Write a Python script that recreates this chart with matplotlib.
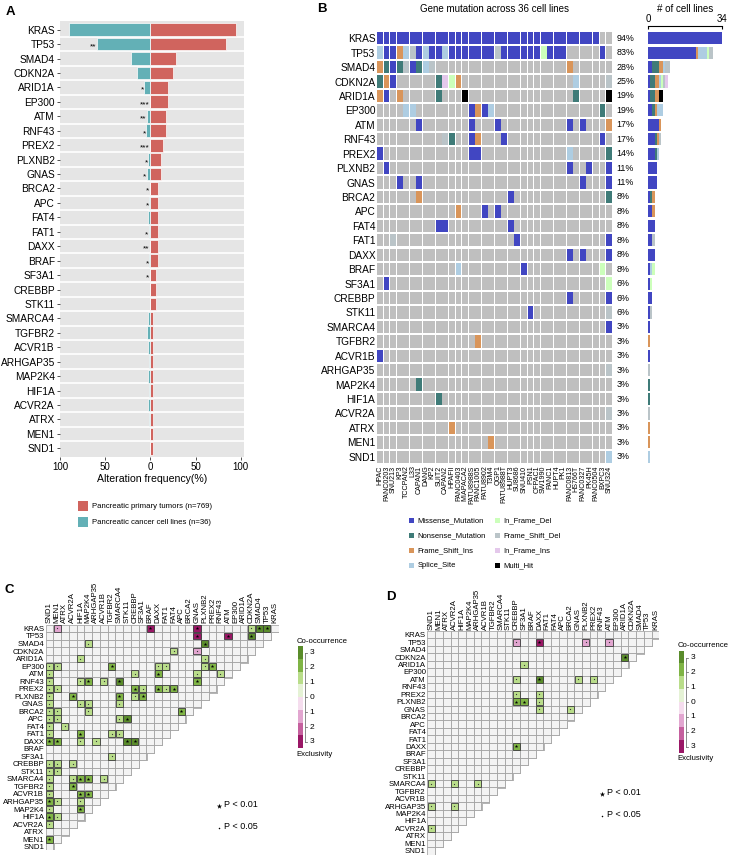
import matplotlib
matplotlib.use("Agg")
import matplotlib.pyplot as plt
from matplotlib.patches import Rectangle

plt.rcParams['font.family'] = ['Liberation Sans', 'DejaVu Sans']

genes = ["KRAS", "TP53", "SMAD4", "CDKN2A", "ARID1A", "EP300", "ATM", "RNF43",
         "PREX2", "PLXNB2", "GNAS", "BRCA2", "APC", "FAT4", "FAT1", "DAXX", "BRAF",
         "SF3A1", "CREBBP", "STK11", "SMARCA4", "TGFBR2", "ACVR1B", "ARHGAP35",
         "MAP2K4", "HIF1A", "ACVR2A", "ATRX", "MEN1", "SND1"]

# panel A: alteration frequency (%)
tumor_freq = [95, 84, 28, 25.5, 19, 19, 17, 17, 14, 11.5, 11.5, 8, 8, 8, 8, 8, 8,
              6, 6, 6, 3, 3, 3, 3, 3, 3, 3, 3, 3, 3]
cellline_freq = [90, 59, 21, 15, 7, 0.8, 4, 5, 0.8, 2.2, 4, 0.8, 1.5, 3, 1.9, 0.8,
                 1.1, 0.8, 0.8, 0.8, 2.2, 4, 2.2, 1.1, 2.2, 1.1, 2.2, 1.1, 0.5, 0.5]
signif = ["", "**", "", "", "*", "***", "**", "*", "***", "*", "*", "*", "*", "",
          "*", "**", "*", "*", "", "", "", "", "", "", "", "", "", "", "", ""]

# panel B: oncoprint
cell_lines = ["HPAC", "PANC0203", "SNU213", "KP3", "TCCPAN2", "L33", "CAPAN1", "DANG",
              "KP2", "SUIT2", "CAPAN2", "HPAFII", "PANC0403", "MIAPACA2", "PATU8988S",
              "PANC1005", "PATU8902", "T3M4", "QGP1", "PATU8988T", "HUPT3", "SU8686",
              "SNU410", "PSN1", "CFPAC1", "SW1990", "PANC1", "HUPT4", "PK1", "PANC0813",
              "HS766T", "PANC0327", "PK45H", "PANC0504", "BXPC3", "SNU324"]

mut_types = ["Missense_Mutation", "Nonsense_Mutation", "Frame_Shift_Ins", "Splice_Site",
             "In_Frame_Del", "Frame_Shift_Del", "In_Frame_Ins", "Multi_Hit"]
mut_codes = ["M", "N", "I", "S", "d", "D", "i", "H"]
mut_colors = ["#4146C2", "#3F7B78", "#D9955A", "#AECDE2", "#CCFFBB", "#BAC4C8",
              "#E4C8EB", "#000000"]

# one string per gene, one character per cell line ("." = no mutation)
mut_rows = [
    "MMMMMM" "MMMMMM" "MMMMMM" "MMMMMM" "MMMMMM" "MMMM..",  # KRAS
    "SMMISD" "MSMMSM" "MMMMMM" "DMMMMM" "MdMMM." "....M.",  # TP53
    "INMNDM" "NSD..." "......" "......" ".....I" "......",  # SMAD4
    "NIM..." "...Nid" "I....." "......" "......" "S....D",  # CDKN2A
    "IM.I.." "...N.." ".H...." "......" "......" "N....H",  # ARID1A
    "....SS" "......" "..MIMS" "......" "......" "....N.",  # EP300
    "......" "M....." "..M..." "M....." ".....M" ".M...I",  # ATM
    "......" "....DN" "..MI.." ".M...." "......" "....M.",  # RNF43
    "M....." "......" "..MM.." "......" ".....S" ".....N",  # PREX2
    ".M...." "......" "......" "......" ".....M" "..M..M",  # PLXNB2
    "...M.." "M....." "......" "......" "......" ".M...M",  # GNAS
    "......" "I....." "......" "..M..." "......" ".....N",  # BRCA2
    "......" "......" "I...M." "M....." "......" "......",  # APC
    "......" "...MM." "......" "..M..." "......" "......",  # FAT4
    "..D..." "......" "......" "...M.." "......" ".....M",  # FAT1
    "......" "......" "......" "......" ".....M" ".M...M",  # DAXX
    "......" "......" "S....." "....M." "......" "....d.",  # BRAF
    ".M...." "......" "......" "......" "......" ".....d",  # SF3A1
    "......" "......" "......" "......" ".....M" ".....M",  # CREBBP
    "......" "......" "......" ".....M" "......" ".....D",  # STK11
    "......" "......" "......" "......" "......" ".....M",  # SMARCA4
    "......" "......" "...I.." "......" "......" "......",  # TGFBR2
    "M....." "......" "......" "......" "......" "......",  # ACVR1B
    "......" "......" "......" "......" "......" ".....D",  # ARHGAP35
    "......" "N....." "......" "......" "......" "......",  # MAP2K4
    "......" "...N.." "......" "......" "......" "......",  # HIF1A
    "......" "......" "......" "......" "......" ".....D",  # ACVR2A
    "......" ".....I" "......" "......" "......" "......",  # ATRX
    "......" "......" ".....I" "......" "......" "......",  # MEN1
    "......" "......" "......" "......" "......" ".....S",  # SND1
]

# panels C and D: (row gene, column gene, level, significance)
# level > 0 co-occurrence, level < 0 exclusivity
c_pairs = [
    ("KRAS", "MEN1", -1, "."), ("KRAS", "BRAF", -3, "*"), ("KRAS", "GNAS", -3, "*"),
    ("KRAS", "CDKN2A", 1, "."), ("KRAS", "SMAD4", 3, "*"), ("KRAS", "TP53", 3, "*"),
    ("TP53", "GNAS", -3, "*"), ("TP53", "ATM", -3, "*"), ("TP53", "CDKN2A", 3, "*"),
    ("SMAD4", "MAP2K4", 1, "."), ("SMAD4", "PLXNB2", 3, "*"),
    ("CDKN2A", "FAT4", 1, "."), ("CDKN2A", "GNAS", -1, "."),
    ("ARID1A", "HIF1A", 1, "."), ("ARID1A", "PLXNB2", 1, "."),
    ("EP300", "SND1", 1, "."), ("EP300", "MEN1", 1, "."), ("EP300", "TGFBR2", 2, "*"),
    ("EP300", "DAXX", 1, "."), ("EP300", "FAT1", 1, "."), ("EP300", "PLXNB2", 1, "."),
    ("EP300", "PREX2", 2, "*"),
    ("ATM", "SND1", 1, "."), ("ATM", "CREBBP", 1, "."), ("ATM", "DAXX", 2, "*"),
    ("ATM", "GNAS", 1, "."), ("ATM", "RNF43", 1, "."),
    ("RNF43", "SND1", 1, "."), ("RNF43", "HIF1A", 1, "."), ("RNF43", "MAP2K4", 2, "*"),
    ("RNF43", "ACVR1B", 1, "."), ("RNF43", "SMARCA4", 3, "*"), ("RNF43", "GNAS", 2, "*"),
    ("PREX2", "SND1", 1, "."), ("PREX2", "MEN1", 1, "."), ("PREX2", "CREBBP", 2, "*"),
    ("PREX2", "SF3A1", 1, "."), ("PREX2", "DAXX", 2, "*"), ("PREX2", "FAT1", 1, "."),
    ("PREX2", "FAT4", 2, "*"),
    ("PLXNB2", "SND1", 1, "."), ("PLXNB2", "ACVR2A", 2, "*"), ("PLXNB2", "SMARCA4", 2, "*"),
    ("PLXNB2", "CREBBP", 1, "."), ("PLXNB2", "SF3A1", 2, "*"),
    ("GNAS", "SND1", 1, "."), ("GNAS", "HIF1A", 1, "."), ("GNAS", "MAP2K4", 1, "."),
    ("GNAS", "SMARCA4", 1, "."),
    ("BRCA2", "SND1", 1, "."), ("BRCA2", "MEN1", 1, "."), ("BRCA2", "MAP2K4", 1, "."),
    ("BRCA2", "APC", 2, "*"),
    ("APC", "SND1", 1, "."), ("APC", "MEN1", 1, "."), ("APC", "SMARCA4", 1, "."),
    ("APC", "STK11", 3, "*"),
    ("FAT4", "SND1", 1, "."), ("FAT4", "ATRX", 1, "."),
    ("FAT1", "SND1", 1, "."), ("FAT1", "HIF1A", 2, "*"), ("FAT1", "TGFBR2", 1, "."),
    ("FAT1", "SMARCA4", 1, "."),
    ("DAXX", "SND1", 2, "*"), ("DAXX", "MEN1", 2, "*"), ("DAXX", "HIF1A", 1, "."),
    ("DAXX", "ARHGAP35", 1, "."), ("DAXX", "STK11", 3, "*"), ("DAXX", "CREBBP", 3, "*"),
    ("SF3A1", "TGFBR2", 1, "."),
    ("CREBBP", "SND1", 1, "."), ("CREBBP", "MEN1", 1, "."), ("CREBBP", "ACVR2A", 1, "."),
    ("STK11", "SND1", 1, "."), ("STK11", "MEN1", 1, "."),
    ("SMARCA4", "SND1", 1, "."), ("SMARCA4", "ACVR2A", 1, "."), ("SMARCA4", "HIF1A", 2, "*"),
    ("SMARCA4", "MAP2K4", 2, "*"), ("SMARCA4", "ACVR1B", 1, "."),
    ("TGFBR2", "SND1", 1, "."), ("TGFBR2", "ACVR2A", 2, "*"),
    ("ACVR1B", "SND1", 1, "."), ("ACVR1B", "HIF1A", 2, "*"), ("ACVR1B", "MAP2K4", 2, "*"),
    ("ARHGAP35", "SND1", 2, "*"), ("ARHGAP35", "MEN1", 1, "."), ("ARHGAP35", "HIF1A", 1, "."),
    ("MAP2K4", "SND1", 1, "."), ("MAP2K4", "HIF1A", 2, "*"),
    ("HIF1A", "SND1", 2, "*"), ("HIF1A", "MEN1", 1, "."),
    ("ACVR2A", "SND1", 1, "."),
    ("MEN1", "SND1", 2, "*"),
]
d_pairs = [
    ("TP53", "CREBBP", -1, "."), ("TP53", "DAXX", -3, "*"), ("TP53", "PLXNB2", -1, "."),
    ("TP53", "ATM", -1, "."),
    ("CDKN2A", "ARID1A", 3, "*"),
    ("ARID1A", "SF3A1", 1, "."),
    ("ATM", "CREBBP", 1, "."), ("ATM", "DAXX", 3, "*"), ("ATM", "GNAS", 1, "."),
    ("ATM", "PREX2", 1, "."),
    ("PREX2", "CREBBP", 1, "."), ("PREX2", "DAXX", 1, "."),
    ("PLXNB2", "CREBBP", 2, "*"), ("PLXNB2", "SF3A1", 2, "*"), ("PLXNB2", "DAXX", 1, "."),
    ("GNAS", "DAXX", 1, "."), ("GNAS", "BRCA2", 1, "."),
    ("DAXX", "CREBBP", 2, "*"),
    ("SMARCA4", "SND1", 1, "."), ("SMARCA4", "ACVR2A", 1, "."), ("SMARCA4", "ARHGAP35", 1, "."),
    ("ARHGAP35", "SND1", 1, "."), ("ARHGAP35", "ACVR2A", 1, "."),
    ("ACVR2A", "SND1", 1, "."),
]

RED = "#D0645E"
TEAL = "#63B0B6"
BG = "#BFBFBF"
level_colors = {3: "#5A8C2B", 2: "#7FB445", 1: "#B9DD8A",
                -1: "#E2A6D0", -2: "#C5609E", -3: "#9A1766"}
cbar_colors = ["#5A8C2B", "#7FB445", "#B9DD8A", "#E5F2D5",
               "#F5DDEE", "#E2A6D0", "#C5609E", "#9A1766"]

W, H = 729, 855
fig = plt.figure(figsize=(W / 100, H / 100), dpi=100)


def px_axes(x0, y0, x1, y1):
    return fig.add_axes([x0 / W, 1 - y1 / H, (x1 - x0) / W, (y1 - y0) / H])


n = len(genes)
rows = list(range(n))

# ---------------- A ----------------
axA = px_axes(60, 21, 244, 457)
axA.set_facecolor("#E5E5E5")
for k in range(n - 1):
    axA.axhline(k + 0.5, color="white", lw=1.2, zorder=0)
axA.barh(rows, tumor_freq, height=0.88, color=RED, edgecolor="white", lw=0.5, zorder=2)
axA.barh(rows, [-v for v in cellline_freq], height=0.88, color=TEAL,
         edgecolor="white", lw=0.5, zorder=2)
for k in rows:
    if signif[k]:
        axA.text(-cellline_freq[k] - 0.3, k + 0.2, signif[k], ha="right", va="center",
                 fontsize=6, zorder=3)
axA.set_xlim(-100, 103.5)
axA.set_ylim(n - 0.4, -0.6)
axA.set_yticks(rows)
axA.set_yticklabels(genes, fontsize=7.3)
axA.set_xticks([-100, -50, 0, 50, 100])
axA.set_xticklabels(["100", "50", "0", "50", "100"], fontsize=7)
axA.set_xlabel("Alteration frequency(%)", fontsize=7.6, labelpad=1.5)
axA.tick_params(length=2.2, width=0.6, color="#333333", pad=1.5)
for s in axA.spines.values():
    s.set_visible(False)

# ---------------- B ----------------
axB = px_axes(376.7, 31, 612.3, 464)
axB.set_xlim(0, len(cell_lines))
axB.set_ylim(n, 0)
for i, row in enumerate(mut_rows):
    for j, code in enumerate(row):
        color = mut_colors[mut_codes.index(code)] if code != "." else BG
        axB.add_patch(Rectangle((j + 0.05, i + 0.07), 0.9, 0.86, facecolor=color,
                                edgecolor="none"))
    cnt = sum(c != "." for c in row)
    axB.text(len(cell_lines) + 0.6, i + 0.5, f"{round(cnt / len(cell_lines) * 100)}%",
             ha="left", va="center", fontsize=6.4)
axB.set_yticks([i + 0.5 for i in rows])
axB.set_yticklabels(genes, fontsize=7.3)
axB.set_xticks([j + 0.5 for j in range(len(cell_lines))])
axB.set_xticklabels(cell_lines, rotation=90, fontsize=5.1)
axB.tick_params(length=0, pad=1)
for s in axB.spines.values():
    s.set_visible(False)
axB.set_title("Gene mutation across 36 cell lines", fontsize=7, pad=14)

# side bar: number of cell lines per mutation type
axR = px_axes(648, 31, 721.7, 464)
axR.set_xlim(0, 34)
axR.set_ylim(n, 0)
for i, row in enumerate(mut_rows):
    left = 0
    for code, color in zip(mut_codes, mut_colors):
        c = row.count(code)
        if c:
            axR.barh(i + 0.5, c, left=left, height=0.84, color=color, edgecolor="none")
            left += c
for side in ["left", "right", "bottom"]:
    axR.spines[side].set_visible(False)
axR.spines["top"].set_position(("outward", 3.8))
axR.spines["top"].set_linewidth(0.8)
axR.xaxis.set_ticks_position("top")
axR.xaxis.set_label_position("top")
axR.set_xticks([0, 34])
axR.set_xticklabels(["0", "34"], fontsize=7)
axR.tick_params(axis="x", direction="in", length=2.5, width=0.8, pad=1.5)
axR.set_yticks([])
axR.set_xlabel("# of cell lines", fontsize=7, labelpad=1.5)


# ---------------- C / D ----------------
def draw_tri(ax, pairs):
    idx = {g: k for k, g in enumerate(genes)}
    ax.set_xlim(0, n)
    ax.set_ylim(n, 0)
    for i in range(n):
        for j in range(n - i):
            ax.add_patch(Rectangle((j + 0.16, i + 0.16), 1, 1, facecolor="#B5B5B5",
                                   edgecolor="none", zorder=1))
    for i in range(n):
        for j in range(n - i):
            ax.add_patch(Rectangle((j, i), 1, 1, facecolor="#F3F3F3",
                                   edgecolor="#9A9A9A", lw=0.5, zorder=2))
    for rg, cg, lev, sig in pairs:
        i = idx[rg]
        j = n - 1 - idx[cg]
        ax.add_patch(Rectangle((j + 0.04, i + 0.04), 0.92, 0.92,
                               facecolor=level_colors[lev], edgecolor="#3C3C3C",
                               lw=0.6, zorder=3))
        if sig == "*":
            ax.scatter(j + 0.5, i + 0.5, marker="*", s=7, c="black", linewidths=0, zorder=4)
        else:
            ax.scatter(j + 0.5, i + 0.5, marker="o", s=0.8, c="#333333", linewidths=0,
                       zorder=4)
    ax.set_yticks([i + 0.5 for i in rows])
    ax.set_yticklabels(genes, fontsize=5.6)
    ax.xaxis.set_ticks_position("top")
    ax.set_xticks([j + 0.5 for j in rows])
    ax.set_xticklabels(genes[::-1], rotation=90, fontsize=5.6)
    ax.tick_params(length=0, pad=1)
    for s in ax.spines.values():
        s.set_visible(False)


axC = px_axes(45.5, 624.7, 278.5, 850.4)
draw_tri(axC, c_pairs)
axD = px_axes(427.3, 631, 659.3, 854.5)
draw_tri(axD, d_pairs)

# ---------------- overlay: labels and legends ----------------
ov = fig.add_axes([0, 0, 1, 1])
ov.set_xlim(0, W)
ov.set_ylim(H, 0)
ov.axis("off")

for lab, x, y in [("A", 6, 6), ("B", 317, 2.5), ("C", 5, 584), ("D", 386, 591)]:
    ov.text(x, y, lab, fontsize=9.5, fontweight="bold", ha="left", va="top")

# legend A
for y, col, txt in [(506, RED, "Pancreatic primary tumors (n=769)"),
                    (522, TEAL, "Pancreatic cancer cell lines (n=36)")]:
    ov.add_patch(Rectangle((78, y - 5), 10.3, 10, facecolor=col, edgecolor="none"))
    ov.text(92, y, txt, fontsize=5.6, va="center", ha="left")

# legend B
leg_y = [520.5, 535.5, 550.3, 565.3]
for k, (name, color) in enumerate(zip(mut_types, mut_colors)):
    x0 = 409.3 if k < 4 else 495.3
    y = leg_y[k % 4]
    ov.add_patch(Rectangle((x0, y - 2.5), 5, 5, facecolor=color, edgecolor="none"))
    ov.text(x0 + 8.4, y, name, fontsize=5.5, va="center", ha="left")


def draw_cbar(x0, y0, y1, width):
    h = (y1 - y0) / len(cbar_colors)
    for k, col in enumerate(cbar_colors):
        ov.add_patch(Rectangle((x0, y0 + k * h), width, h, facecolor=col, edgecolor="none"))
    top = y0 + 0.067 * (y1 - y0)
    bot = y1 - 0.06 * (y1 - y0)
    lx = x0 + width + 2.5
    ov.plot([lx, lx], [top, bot], color="#777777", lw=0.6)
    for k, t in enumerate(["3", "2", "1", "0", "1", "2", "3"]):
        ty = top + k * (bot - top) / 6
        ov.plot([lx, lx + 2], [ty, ty], color="#777777", lw=0.6)
        ov.text(lx + 4, ty, t, fontsize=6, va="center", ha="left")
    ov.text(x0 - 1.6, y0 - 5, "Co-occurrence", fontsize=5.6, va="center", ha="left")
    ov.text(x0 - 1.6, y1 + 6.2, "Exclusivity", fontsize=5.6, va="center", ha="left")


draw_cbar(298.3, 646, 748, 4.4)
draw_cbar(679.3, 650.7, 752.7, 4.7)


def draw_pkey(x, y1, y2):
    ov.scatter(x, y1 + 1.5, marker="*", s=16, c="black", linewidths=0)
    ov.text(x + 5, y1, "P < 0.01", fontsize=6.5, va="center", ha="left")
    ov.scatter(x, y2 + 1.8, marker="o", s=1.2, c="black", linewidths=0)
    ov.text(x + 5, y2, "P < 0.05", fontsize=6.5, va="center", ha="left")


draw_pkey(219, 804, 826)
draw_pkey(601.7, 792.5, 814)

fig.savefig("out.png", dpi=100)
